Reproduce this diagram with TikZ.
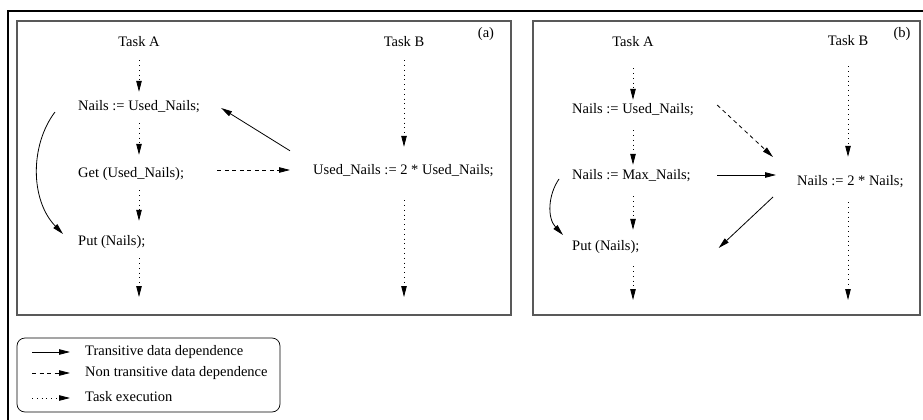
\documentclass[tikz,border=0pt]{standalone}
\usepackage{fontspec}
\setmainfont{Liberation Serif}
\usetikzlibrary{arrows.meta}
\tikzstyle{heading} = [inner sep=0pt, text height=10pt, text depth=3pt, font=\fontsize{14.5pt}{17pt}\selectfont]
\tikzstyle{stmt} = [heading, anchor=west]
\tikzstyle{panel} = [draw=black!65, line width=1.2pt]
\tikzstyle{trans} = [line width=0.8pt, -{Triangle[length=11pt, width=5.5pt]}]
\tikzstyle{nontrans} = [trans, dash pattern=on 4pt off 3.5pt]
\tikzstyle{exec} = [trans, dash pattern=on 1pt off 3.8pt]

\begin{document}
\begin{tikzpicture}[x=1pt, y=-1pt]
\useasboundingbox (0,0) rectangle (923,420);
\draw [line width=2.3pt] (7.8,420) -- (7.8,11) -- (923,11);
\draw [panel] (17,21) rectangle (511,315);
\draw [panel] (533,21) rectangle (920,315);
\draw [rounded corners=8pt, line width=0.7pt] (17,338) rectangle (280,412);

% (a)
\node (taskAa) [heading] at (139,43) {Task A};
\node (taskBa) [heading] at (404,43) {Task B};
\node (tagA) [heading] at (486,34) {(a)};
\node (nailsUa) [stmt] at (78,107) {Nails := Used\_Nails;};
\node (geta) [stmt] at (78,174) {Get (Used\_Nails);};
\node (puta) [stmt] at (78,242) {Put (Nails);};
\node (dbla) [stmt] at (313,171) {Used\_Nails := 2 * Used\_Nails;};
\coordinate (endAa) at (139,297);
\coordinate (endBa) at (404,297);
\draw [exec, shorten <=10.5pt, shorten >=8.5pt] (taskAa.south) -- (taskAa |- nailsUa.north);
\draw [exec, shorten <=9.5pt, shorten >=12.5pt] (taskAa |- nailsUa.south) -- (taskAa |- geta.north);
\draw [exec, shorten <=9.5pt, shorten >=14.5pt] (taskAa |- geta.south) -- (taskAa |- puta.north);
\draw [exec, shorten <=9.5pt] (taskAa |- puta.south) -- (endAa);
\draw [exec, shorten <=10.5pt, shorten >=17.5pt] (taskBa.south) -- (taskBa |- dbla.north);
\draw [exec, shorten <=22.5pt] (taskBa |- dbla.south) -- (endBa);
\draw [trans] ([shift={(-23,-13.5)}]dbla.north west) -- ([shift={(21,1)}]nailsUa.east);
\draw [nontrans] ([shift={(33,-4)}]geta.east) -- ([shift={(-23,-1)}]dbla.west);
\draw [trans] ([shift={(-23,5)}]nailsUa.west) .. controls +(-25,33) and +(-33,-34) .. ([shift={(-15,-8)}]puta.west);

% (b)
\node (taskAb) [heading] at (633,43) {Task A};
\node (taskBb) [heading] at (848,42) {Task B};
\node (tagB) [heading] at (902,34) {(b)};
\node (nailsUb) [stmt] at (572,110) {Nails := Used\_Nails;};
\node (maxb) [stmt] at (572,176) {Nails := Max\_Nails;};
\node (putb) [stmt] at (572,247) {Put (Nails);};
\node (dblb) [stmt] at (797,182) {Nails := 2 * Nails;};
\coordinate (endAb) at (633,300);
\coordinate (endBb) at (848,300);
\draw [exec, shorten <=18.5pt, shorten >=3.5pt] (taskAb.south) -- (taskAb |- nailsUb.north);
\draw [exec, shorten <=13.5pt, shorten >=4.5pt] (taskAb |- nailsUb.south) -- (taskAb |- maxb.north);
\draw [exec, shorten <=13.5pt, shorten >=10.5pt] (taskAb |- maxb.south) -- (taskAb |- putb.north);
\draw [exec, shorten <=12.5pt] (taskAb |- putb.south) -- (endAb);
\draw [exec, shorten <=17.5pt, shorten >=18.5pt] (taskBb.south) -- (taskBb |- dblb.north);
\draw [exec, shorten <=13.5pt] (taskBb |- dblb.south) -- (endBb);
\draw [nontrans] ([shift={(23,-5)}]nailsUb.east) -- ([shift={(-24,-25)}]dblb.west);
\draw [trans] ([shift={(26.5,-1)}]maxb.east) -- ([shift={(-21,-7)}]dblb.west);
\draw [trans] ([shift={(-24,15)}]dblb.west) -- ([shift={(79,1)}]putb.east);
\draw [trans] ([shift={(-13,3)}]maxb.west) .. controls +(-11,16) and +(-16,-17) .. ([shift={(-9,-12)}]putb.west);

% legend
\node (legT) [stmt] at (85,352) {Transitive data dependence};
\node (legN) [stmt] at (85,373) {Non transitive data dependence};
\node (legE) [stmt] at (85,398) {Task execution};
\draw [trans] ([xshift=-53]legT.west) -- ([xshift=-15]legT.west);
\draw [nontrans] ([xshift=-53]legN.west) -- ([xshift=-15]legN.west);
\draw [exec] ([xshift=-53]legE.west) -- ([xshift=-15]legE.west);
\end{tikzpicture}
\end{document}
